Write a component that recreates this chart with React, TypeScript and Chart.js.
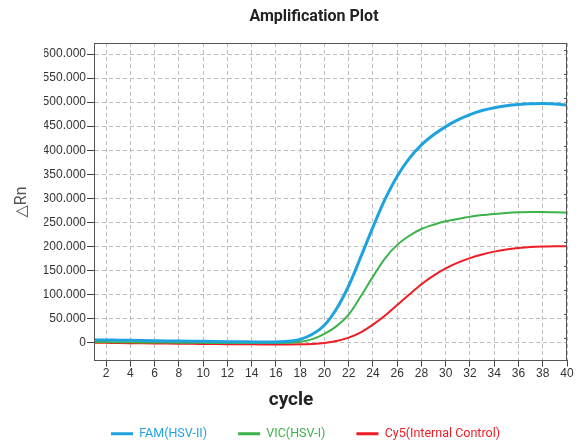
import React, { useEffect, useRef } from "react";
import { Chart, registerables } from "chart.js";

Chart.register(...registerables);

const cycles = [
  1, 2, 3, 4, 5, 6, 7, 8, 9, 10, 11, 12, 13, 14, 15, 16, 17, 18, 19, 20,
  21, 22, 23, 24, 25, 26, 27, 28, 29, 30, 31, 32, 33, 34, 35, 36, 37, 38, 39, 40,
];

const famValues = [
  5.5, 5.2, 4.8, 4.4, 4.0, 3.6, 3.2, 2.9, 2.6, 2.3, 2.0, 1.7, 1.4, 1.2, 1.0, 1.2, 2.5, 6.5, 17, 36,
  70, 118, 178, 240, 298, 346, 383, 411, 432, 449, 463, 474, 482.5, 488.5, 492.5, 495, 496.5, 497, 496, 494,
];

const vicValues = [
  1.0, 0.8, 0.6, 0.4, 0.2, 0, -0.2, -0.4, -0.6, -0.8, -1.0, -1.1, -1.2, -1.3, -1.3, -1.2, -0.5, 1.5, 7, 18,
  34, 58, 96, 137, 175, 203, 222, 236, 245, 252, 257, 261.5, 265, 267.5, 269.5, 270.8, 271.5, 271.5, 271, 270,
];

const cy5Values = [
  -0.5, -0.8, -1.1, -1.4, -1.7, -2.0, -2.3, -2.6, -2.9, -3.1, -3.3, -3.5, -3.7, -3.9, -4.0, -4.1, -4.1, -3.9, -3.0, -1.0,
  3, 10, 21, 37, 56, 78, 100, 121, 139, 154, 166, 175.5, 183, 189, 193.5, 196.5, 198.5, 199.5, 200, 200,
];

const seriesNames = ["FAM(HSV-II)", "VIC(HSV-I)", "Cy5(Internal Control)"];
const seriesColors = ["#1fa3df", "#3cb34a", "#ee1d25"];
const seriesWidths = [3, 2, 2];

const xTickValues = [2, 4, 6, 8, 10, 12, 14, 16, 18, 20, 22, 24, 26, 28, 30, 32, 34, 36, 38, 40];
const yTickValues = [0, 50, 100, 150, 200, 250, 300, 350, 400, 450, 500, 550, 600];
const yTickLabels = [
  "0", "50.000", "100.000", "150.000", "200.000", "250.000", "300.000",
  "350.000", "400.000", "450.000", "500.000", "550.000", "600.000",
];

const chartTitle = "Amplification Plot";
const xTitle = "cycle";
const yTitle = "△Rn";

const decorPlugin = {
  id: "decor",
  afterDraw(chart: any) {
    const { ctx, chartArea } = chart;
    const { left, right, top, bottom } = chartArea;
    ctx.save();
    // frame
    ctx.strokeStyle = "#555";
    ctx.lineWidth = 1;
    ctx.strokeRect(Math.round(left) + 0.5, Math.round(top) + 0.5, Math.round(right - left) - 1, Math.round(bottom - top) - 1);
    // inner ticks on right border
    const ys = chart.scales.y;
    ctx.beginPath();
    yTickValues.forEach((v) => {
      const py = Math.round(ys.getPixelForValue(v)) - 4 + 0.5;
      if (py > top + 2) {
        ctx.moveTo(right - 3, py);
        ctx.lineTo(right, py);
      }
    });
    ctx.stroke();
    // title
    ctx.fillStyle = "#222";
    ctx.textAlign = "center";
    ctx.textBaseline = "middle";
    ctx.font = "bold 16px Roboto, 'DejaVu Sans', sans-serif";
    ctx.fillText(chartTitle, 314, 17);
    // x title
    ctx.font = "bold 19px Roboto, 'DejaVu Sans', sans-serif";
    ctx.fillText(xTitle, 291, 400);
    // y title
    ctx.save();
    ctx.translate(22, 202);
    ctx.rotate(-Math.PI / 2);
    ctx.fillStyle = "#555";
    ctx.font = "16px Roboto, 'DejaVu Sans', sans-serif";
    ctx.fillText(yTitle, 0, 0);
    ctx.restore();
    ctx.restore();
  },
};

export default function App() {
  const canvasRef = useRef<HTMLCanvasElement | null>(null);

  useEffect(() => {
    const canvas = canvasRef.current;
    if (!canvas) return;
    const seriesValues = [famValues, vicValues, cy5Values];
    const chart = new Chart(canvas, {
      type: "line",
      data: {
        datasets: seriesNames.map((name, i) => ({
          label: name,
          data: cycles.map((c, j) => ({ x: c, y: seriesValues[i][j] })),
          borderColor: seriesColors[i],
          backgroundColor: seriesColors[i],
          borderWidth: seriesWidths[i],
          pointRadius: 0,
          cubicInterpolationMode: "monotone" as const,
          fill: false,
        })),
      },
      options: {
        animation: false,
        responsive: false,
        layout: { padding: { left: 44, right: 15, top: 43, bottom: 0 } },
        plugins: {
          title: { display: false },
          tooltip: { enabled: false },
          legend: {
            position: "bottom",
            labels: {
              boxWidth: 22,
              boxHeight: 3,
              padding: 31,
              font: { size: 12.5, family: "Roboto, 'DejaVu Sans', sans-serif" },
              generateLabels: (ch: any) =>
                (Chart.defaults.plugins.legend.labels.generateLabels as any)(ch).map((l: any) => ({
                  ...l,
                  lineWidth: 0,
                  fontColor: seriesColors[l.datasetIndex],
                })),
            },
          },
        },
        scales: {
          x: {
            type: "linear",
            min: 1,
            max: 40,
            afterBuildTicks: (s: any) => {
              s.ticks = xTickValues.map((v) => ({ value: v }));
            },
            afterFit: (s: any) => {
              s.height = 36;
            },
            grid: { color: "#bdbdbd", tickColor: "#444", tickLength: 6, lineWidth: 1 },
            border: { display: true, color: "#555", dash: [4, 3] },
            ticks: {
              autoSkip: false,
              maxRotation: 0,
              padding: 0,
              color: "#333",
              font: { size: 12, family: "'Liberation Sans', Arial, sans-serif" },
            },
          },
          y: {
            type: "linear",
            min: -37.5,
            max: 623,
            afterBuildTicks: (s: any) => {
              s.ticks = yTickValues.map((v) => ({ value: v }));
            },
            afterFit: (s: any) => {
              s.width = 50;
            },
            grid: { color: "#bdbdbd", tickColor: "#444", tickLength: 7, lineWidth: 1 },
            border: { display: true, color: "#555", dash: [4, 3] },
            ticks: {
              padding: 1,
              color: "#333",
              font: { size: 12, family: "'Liberation Sans', Arial, sans-serif" },
              callback: (v: any) => {
                const idx = yTickValues.indexOf(Number(v));
                return idx >= 0 ? yTickLabels[idx] : "";
              },
            },
          },
        },
      },
      plugins: [decorPlugin],
    } as any);
    return () => chart.destroy();
  }, []);

  return (
    <div
      style={{
        position: "fixed",
        left: 0,
        top: 0,
        width: 582,
        height: 443,
        overflow: "hidden",
        background: "#fff",
      }}
    >
      <canvas ref={canvasRef} width={582} height={450} style={{ display: "block" }} />
    </div>
  );
}
